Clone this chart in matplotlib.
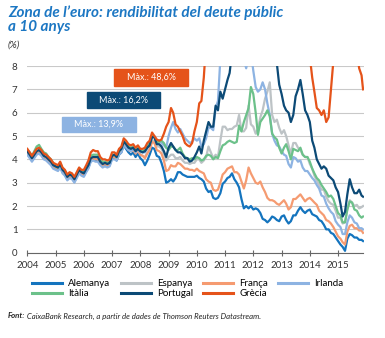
import matplotlib
matplotlib.use("Agg")
import matplotlib.pyplot as plt
import matplotlib.dates as mdates
from matplotlib.patches import Rectangle
import pandas as pd

plt.rcParams['font.family'] = ['Lato', 'DejaVu Sans']

# monthly readings (month start), last point = latest observation
dates = list(pd.date_range('2004-01-01', '2015-11-01', freq='MS')) + [pd.Timestamp('2015-11-20')]

alemanya = [
    4.25, 4.10, 3.95, 4.10, 4.25, 4.30, 4.20, 4.05, 4.00, 3.90, 3.80, 3.65,
    3.60, 3.55, 3.70, 3.45, 3.35, 3.15, 3.25, 3.20, 3.05, 3.25, 3.45, 3.35,
    3.30, 3.50, 3.65, 3.95, 4.00, 3.95, 3.95, 3.80, 3.70, 3.75, 3.70, 3.75,
    4.05, 4.05, 3.95, 4.20, 4.30, 4.60, 4.45, 4.30, 4.20, 4.30, 4.10, 4.25,
    4.05, 3.95, 3.75, 3.95, 4.20, 4.50, 4.45, 4.15, 4.10, 3.85, 3.50, 3.00,
    3.05, 3.15, 3.05, 3.20, 3.45, 3.45, 3.35, 3.30, 3.25, 3.25, 3.25, 3.25,
    3.30, 3.20, 3.15, 3.05, 2.75, 2.60, 2.65, 2.35, 2.30, 2.35, 2.55, 2.95,
    3.05, 3.20, 3.25, 3.40, 3.15, 3.00, 2.80, 2.30, 1.90, 2.00, 1.90, 2.00,
    1.85, 1.90, 1.85, 1.70, 1.45, 1.40, 1.30, 1.40, 1.55, 1.50, 1.40, 1.35,
    1.55, 1.60, 1.40, 1.25, 1.35, 1.60, 1.60, 1.80, 1.95, 1.80, 1.70, 1.80,
    1.85, 1.65, 1.60, 1.55, 1.40, 1.35, 1.20, 1.00, 1.00, 0.85, 0.80, 0.65,
    0.50, 0.35, 0.25, 0.08, 0.60, 0.80, 0.75, 0.65, 0.65, 0.55, 0.55, 0.50]

espanya = [
    4.30, 4.15, 4.00, 4.15, 4.30, 4.35, 4.25, 4.10, 4.05, 3.95, 3.85, 3.70,
    3.65, 3.60, 3.75, 3.50, 3.40, 3.20, 3.30, 3.25, 3.10, 3.30, 3.50, 3.40,
    3.35, 3.55, 3.70, 4.00, 4.05, 4.05, 4.05, 3.85, 3.75, 3.80, 3.75, 3.80,
    4.10, 4.15, 4.05, 4.30, 4.40, 4.70, 4.60, 4.45, 4.40, 4.45, 4.30, 4.40,
    4.20, 4.15, 4.10, 4.30, 4.45, 4.80, 4.80, 4.55, 4.55, 4.45, 4.25, 3.95,
    4.10, 4.20, 4.20, 4.05, 4.05, 4.10, 3.95, 3.85, 3.85, 3.80, 3.85, 3.85,
    4.00, 4.00, 3.85, 3.95, 4.10, 4.55, 4.30, 4.05, 4.20, 4.10, 4.80, 5.40,
    5.40, 5.25, 5.30, 5.30, 5.40, 5.45, 5.90, 5.20, 5.20, 5.35, 6.30, 5.50,
    5.40, 5.10, 5.30, 5.80, 6.10, 6.60, 6.90, 7.30, 5.90, 5.60, 5.70, 5.35,
    5.10, 5.25, 5.00, 4.60, 4.25, 4.70, 4.70, 4.50, 4.40, 4.20, 4.10, 4.10,
    3.80, 3.60, 3.30, 3.10, 2.90, 2.70, 2.70, 2.40, 2.20, 2.10, 2.05, 1.80,
    1.50, 1.50, 1.25, 1.30, 1.85, 2.25, 2.15, 2.00, 2.05, 1.90, 1.95, 2.00]

franca = [
    4.30, 4.15, 4.00, 4.15, 4.30, 4.35, 4.25, 4.10, 4.05, 3.95, 3.85, 3.70,
    3.65, 3.60, 3.75, 3.50, 3.40, 3.20, 3.30, 3.25, 3.10, 3.30, 3.50, 3.40,
    3.35, 3.55, 3.70, 4.00, 4.05, 4.00, 4.00, 3.85, 3.75, 3.80, 3.75, 3.80,
    4.10, 4.10, 4.00, 4.25, 4.35, 4.65, 4.55, 4.40, 4.35, 4.40, 4.25, 4.40,
    4.20, 4.15, 4.05, 4.25, 4.40, 4.75, 4.70, 4.40, 4.35, 4.25, 3.95, 3.50,
    3.55, 3.75, 3.70, 3.70, 3.85, 3.80, 3.70, 3.60, 3.60, 3.55, 3.55, 3.50,
    3.60, 3.50, 3.45, 3.40, 3.15, 3.05, 3.00, 2.70, 2.65, 2.70, 3.00, 3.35,
    3.45, 3.60, 3.65, 3.70, 3.45, 3.45, 3.35, 3.05, 2.75, 3.10, 3.65, 3.40,
    3.20, 3.00, 2.95, 3.05, 2.80, 2.60, 2.35, 2.25, 2.25, 2.20, 2.10, 2.05,
    2.15, 2.25, 2.10, 1.85, 1.95, 2.30, 2.30, 2.40, 2.50, 2.35, 2.20, 2.30,
    2.35, 2.25, 2.15, 2.05, 1.80, 1.70, 1.60, 1.40, 1.35, 1.25, 1.10, 0.90,
    0.70, 0.60, 0.45, 0.35, 0.90, 1.15, 1.20, 1.05, 1.05, 0.95, 0.95, 0.85]

irlanda = [
    4.20, 4.05, 3.90, 4.05, 4.20, 4.25, 4.15, 4.00, 3.95, 3.85, 3.75, 3.60,
    3.55, 3.50, 3.65, 3.40, 3.30, 3.10, 3.20, 3.15, 3.00, 3.20, 3.40, 3.30,
    3.25, 3.45, 3.60, 3.90, 3.95, 3.90, 3.90, 3.75, 3.65, 3.70, 3.65, 3.70,
    4.00, 4.00, 3.95, 4.20, 4.30, 4.60, 4.50, 4.40, 4.35, 4.45, 4.30, 4.45,
    4.30, 4.30, 4.30, 4.50, 4.65, 5.00, 5.00, 4.80, 4.80, 4.70, 4.60, 4.50,
    5.00, 5.35, 5.60, 5.30, 5.15, 5.30, 5.10, 4.90, 4.80, 4.70, 4.75, 4.90,
    4.80, 4.90, 4.55, 4.65, 4.90, 5.35, 5.35, 5.25, 6.20, 6.50, 8.30, 8.60,
    8.90, 9.20, 9.50, 9.80, 10.70, 11.30, 12.40, 10.00, 8.30, 7.90, 8.40, 8.60,
    7.80, 7.10, 6.90, 7.00, 7.30, 7.00, 6.40, 5.90, 5.10, 4.80, 4.60, 4.55,
    4.35, 4.20, 4.15, 3.80, 3.65, 4.10, 4.05, 3.90, 3.95, 3.65, 3.50, 3.50,
    3.35, 3.20, 3.10, 2.90, 2.75, 2.45, 2.40, 2.10, 1.90, 1.75, 1.65, 1.35,
    1.20, 1.10, 0.80, 0.80, 1.30, 1.60, 1.50, 1.30, 1.25, 1.05, 1.05, 1.00]

italia = [
    4.40, 4.30, 4.15, 4.35, 4.55, 4.62, 4.45, 4.30, 4.25, 4.10, 4.00, 3.85,
    3.70, 3.65, 3.85, 3.60, 3.50, 3.30, 3.40, 3.35, 3.20, 3.40, 3.60, 3.50,
    3.45, 3.65, 3.85, 4.15, 4.20, 4.20, 4.20, 4.00, 3.90, 3.90, 3.85, 3.90,
    4.20, 4.20, 4.10, 4.35, 4.45, 4.80, 4.70, 4.55, 4.50, 4.55, 4.40, 4.50,
    4.35, 4.35, 4.40, 4.55, 4.70, 5.05, 4.95, 4.75, 4.75, 4.80, 4.70, 4.50,
    4.40, 4.55, 4.55, 4.40, 4.40, 4.50, 4.25, 4.10, 4.05, 4.00, 4.05, 4.00,
    4.10, 4.05, 3.95, 4.00, 4.15, 4.20, 4.15, 4.00, 4.10, 4.05, 4.35, 4.60,
    4.65, 4.75, 4.80, 4.75, 4.70, 4.75, 5.45, 5.20, 5.60, 5.90, 6.20, 7.10,
    6.80, 6.00, 5.05, 5.60, 5.75, 5.90, 6.10, 5.85, 5.10, 4.95, 4.85, 4.50,
    4.25, 4.50, 4.65, 4.35, 4.00, 4.45, 4.40, 4.35, 4.50, 4.20, 4.10, 4.10,
    3.90, 3.60, 3.40, 3.20, 3.10, 2.90, 2.75, 2.60, 2.40, 2.45, 2.30, 2.00,
    1.70, 1.60, 1.30, 1.30, 1.85, 2.20, 2.15, 1.85, 1.80, 1.60, 1.50, 1.55]

portugal = [
    4.35, 4.20, 4.05, 4.20, 4.35, 4.40, 4.30, 4.15, 4.10, 4.00, 3.90, 3.75,
    3.70, 3.65, 3.80, 3.55, 3.45, 3.25, 3.35, 3.30, 3.15, 3.35, 3.55, 3.45,
    3.40, 3.60, 3.75, 4.05, 4.10, 4.10, 4.10, 3.90, 3.80, 3.85, 3.80, 3.85,
    4.15, 4.20, 4.10, 4.35, 4.45, 4.75, 4.65, 4.50, 4.45, 4.50, 4.35, 4.45,
    4.35, 4.30, 4.35, 4.50, 4.60, 4.95, 4.95, 4.65, 4.65, 4.55, 4.35, 4.10,
    4.50, 4.70, 4.55, 4.40, 4.30, 4.30, 4.20, 4.05, 4.05, 3.90, 3.95, 4.10,
    4.30, 4.55, 4.25, 4.80, 5.20, 5.60, 5.40, 5.40, 6.30, 6.10, 6.90, 6.60,
    7.00, 7.40, 7.70, 8.60, 9.30, 10.50, 11.80, 10.40, 11.00, 11.80, 12.00, 13.10,
    14.00, 13.00, 12.50, 11.80, 11.60, 10.50, 10.50, 9.90, 8.80, 8.60, 8.10, 7.20,
    6.80, 6.30, 6.10, 6.00, 5.60, 5.90, 6.70, 7.00, 7.40, 6.80, 6.10, 5.90,
    5.60, 4.80, 4.50, 4.00, 3.80, 3.60, 3.70, 3.60, 3.30, 3.20, 3.10, 2.80,
    2.60, 2.10, 1.55, 1.75, 2.50, 3.15, 2.80, 2.55, 2.55, 2.70, 2.45, 2.40]

grecia = [
    4.45, 4.30, 4.15, 4.30, 4.45, 4.50, 4.40, 4.25, 4.20, 4.10, 4.00, 3.85,
    3.80, 3.75, 3.90, 3.65, 3.55, 3.35, 3.45, 3.40, 3.25, 3.45, 3.65, 3.55,
    3.55, 3.75, 3.95, 4.30, 4.40, 4.35, 4.35, 4.10, 4.00, 4.00, 3.95, 4.00,
    4.30, 4.30, 4.20, 4.45, 4.55, 4.90, 4.80, 4.65, 4.60, 4.65, 4.50, 4.60,
    4.45, 4.45, 4.50, 4.70, 4.80, 5.15, 5.00, 4.85, 4.80, 4.85, 5.10, 5.40,
    5.60, 6.20, 6.00, 5.50, 5.40, 5.20, 5.00, 4.70, 4.60, 4.55, 4.70, 5.20,
    5.60, 6.40, 6.50, 7.50, 9.00, 9.50, 10.50, 10.80, 11.50, 10.50, 11.50, 12.00,
    11.50, 11.50, 12.50, 14.00, 16.00, 16.50, 16.00, 15.50, 20.00, 24.00, 27.00, 34.00,
    35.00, 40.00, 20.00, 21.00, 27.00, 26.00, 26.00, 24.00, 21.00, 18.00, 17.00, 12.00,
    10.50, 11.00, 11.50, 11.50, 9.00, 10.50, 11.00, 10.00, 9.50, 8.50, 8.50, 8.50,
    8.40, 7.50, 6.90, 6.20, 6.10, 5.90, 6.10, 5.60, 5.80, 7.00, 8.20, 8.90,
    10.50, 10.00, 11.00, 12.50, 11.50, 12.00, 13.00, 9.50, 8.60, 7.90, 7.60, 7.00]

series = [
    ('Alemanya', alemanya, '#1474BE'),
    ('Espanya', espanya, '#BDC3C6'),
    ('França', franca, '#F59B71'),
    ('Irlanda', irlanda, '#8DB3E2'),
    ('Itàlia', italia, '#6CC18A'),
    ('Portugal', portugal, '#0C4A76'),
    ('Grècia', grecia, '#E5531A'),
]

# max boxes: (text, colour, x0, y0, x1, y1) in pixels from top-left
max_boxes = [
    ('Màx.: 48,6%', '#E5531A', 114, 69, 188, 86),
    ('Màx.: 16,2%', '#0C4A76', 87, 92, 160, 108),
    ('Màx.: 13,9%', '#8DB3E2', 62, 117, 136, 132),
]

W, H = 385, 338
fig = plt.figure(figsize=(W / 100, H / 100), dpi=100)
ax = fig.add_axes([27.3 / W, 1 - 252.7 / H, 336.2 / W, 186.7 / H])

lines = {}
for name, vals, col in series:
    lines[name], = ax.plot(dates, vals, color=col, lw=1.6, label=name,
                           solid_joinstyle='round')

ax.set_ylim(0, 8)
ax.set_xlim(pd.Timestamp('2004-01-01'), pd.Timestamp('2015-11-26'))
ax.set_yticks(range(0, 9))
ax.yaxis.grid(True, color='#C9C9C9', lw=0.8)
ax.set_axisbelow(True)
ax.xaxis.set_major_locator(mdates.YearLocator())
ax.xaxis.set_major_formatter(mdates.DateFormatter('%Y'))
for s in ['top', 'right', 'left']:
    ax.spines[s].set_visible(False)
ax.spines['bottom'].set_color('#666666')
ax.spines['bottom'].set_linewidth(0.8)
ax.tick_params(axis='y', length=0, pad=7, labelsize=7, labelcolor='#333333')
ax.tick_params(axis='x', direction='inout', length=4, color='#666666',
               labelsize=7, labelcolor='#333333', pad=4)

for txt, col, x0, y0, x1, y1 in max_boxes:
    fig.patches.append(Rectangle((x0 / W, 1 - y1 / H), (x1 - x0) / W, (y1 - y0) / H,
                                 transform=fig.transFigure, color=col, zorder=5))
    fig.text((x0 + x1) / 2 / W, 1 - (y0 + y1) / 2 / H, txt, color='white',
             fontsize=6.5, ha='center', va='center', zorder=6)

fig.text(8 / W, 1 - 5 / H, 'Zona de l’euro: rendibilitat del deute públic\na 10 anys',
         color='#1C77C3', fontsize=11, fontweight='bold', style='italic',
         va='top', ha='left', linespacing=1.0)
fig.text(8 / W, 1 - 45 / H, '(%)', fontsize=7, style='italic', color='#333333',
         va='center', ha='left')

order = ['Alemanya', 'Itàlia', 'Espanya', 'Portugal', 'França', 'Grècia', 'Irlanda']
fig.legend([lines[n] for n in order], order, loc='upper left',
           bbox_to_anchor=(32 / W, 1 - 279 / H), ncol=4, frameon=False,
           fontsize=7, handlelength=3.1, handletextpad=0.62, columnspacing=1.05,
           labelspacing=0.1, borderpad=0, borderaxespad=0)
for lh in fig.legends[0].get_lines():
    lh.set_linewidth(2.2)

t1 = fig.text(8 / W, 1 - 316 / H, 'Font:', fontsize=5.6, fontweight='bold',
              style='italic', color='#222222', va='center', ha='left')
fig.add_artist(plt.Annotation(' CaixaBank Research, a partir de dades de Thomson Reuters Datastream.',
                              xy=(1, 0.5), xycoords=t1, va='center', ha='left',
                              fontsize=5.6, style='italic', color='#222222'))

fig.savefig('out.png', dpi=100)
